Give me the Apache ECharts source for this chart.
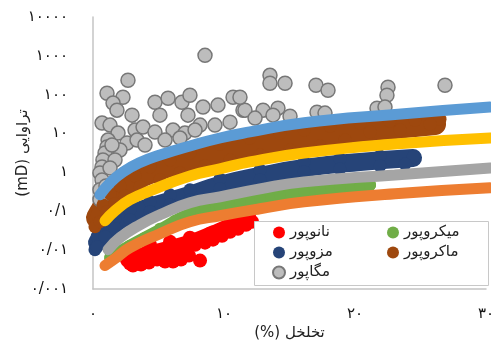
<!DOCTYPE html>
<html>
<head>
<meta charset="utf-8">
<script src="https://cdn.jsdelivr.net/npm/echarts@6/dist/echarts.min.js"></script>
<style>
  html, body { margin: 0; padding: 0; background: #fff; }
  #chart { width: 491px; height: 347px; }
</style>
</head>
<body>
<div id="chart"></div>
<script>
// tick labels (Persian digits, "/" as decimal mark)
const xTickLabels = ['۰', '۱۰', '۲۰', '۳۰']
const yTickLabels = ['۰/۰۰۱', '۰/۰۱', '۰/۱', '۱', '۱۰', '۱۰۰', '۱۰۰۰', '۱۰۰۰۰']

const legendLeft = ['نانوپور', 'مزوپور', 'مگاپور']
const legendRight = ['میکروپور', 'ماکروپور']

// [porosity %, permeability mD]
const megaPore = [
  [8.55, 1030], [2.67, 236], [1.07, 109], [2.29, 86], [1.53, 61], [1.83, 40],
  [0.69, 18.6], [2.98, 29.8], [4.73, 64], [5.73, 81], [6.79, 64], [7.40, 97],
  [8.40, 48], [9.54, 54], [10.69, 86], [11.45, 40], [5.11, 29.8], [7.25, 29.8],
  [1.30, 16.5], [1.91, 10.3], [3.21, 12.3], [3.82, 14.7], [4.73, 10.9], [6.11, 12.3],
  [8.17, 16.5], [7.02, 10.3], [1.15, 6.81], [2.60, 5.71], [3.36, 6.81], [1.07, 4.51],
  [0.92, 3.16], [0.76, 2.09], [0.69, 1.38], [0.53, 0.97], [0.69, 0.64], [0.53, 0.36],
  [0.53, 0.20], [13.51, 316], [13.51, 197], [14.66, 197], [17.02, 175], [17.94, 130],
  [22.52, 156], [22.44, 97], [26.87, 175], [11.60, 40], [12.98, 40], [14.12, 45],
  [13.74, 29.8], [17.10, 35.6], [21.68, 45], [22.29, 48], [11.22, 86], [9.31, 16.5],
  [10.46, 19.7], [12.37, 25], [15.04, 28.1], [17.71, 33.6], [5.50, 6.81], [6.64, 7.67],
  [2.06, 3.78], [1.45, 5.07], [3.97, 5.07], [7.79, 12.3], [1.68, 2.09], [1.30, 1.30],
  [0.99, 0.45], [0.84, 0.28]
]

const nanoPore = [
  [2.82, 0.0045], [3.05, 0.00401], [3.66, 0.00425], [4.27, 0.00478], [4.89, 0.00571],
  [5.50, 0.00507], [6.11, 0.00507], [6.72, 0.00571], [7.33, 0.00723], [8.17, 0.00538],
  [3.21, 0.00723], [3.97, 0.00813], [4.73, 0.00916], [5.50, 0.0103], [6.26, 0.0103],
  [7.02, 0.0116], [7.79, 0.0138], [8.55, 0.0156], [9.16, 0.0186], [9.85, 0.0235],
  [10.46, 0.0298], [11.07, 0.0356], [11.68, 0.0451], [12.14, 0.0538], [4.35, 0.0138],
  [5.88, 0.0165], [7.40, 0.0209], [8.93, 0.0265], [10.31, 0.0378], [11.53, 0.0571]
]
const nanoBand = [
  [2.67, 0.00571], [3.97, 0.00767], [5.50, 0.0103], [7.40, 0.0156], [9.31, 0.0281],
  [10.84, 0.0478], [11.83, 0.0723]
]

const microPore = [
  [1.45, 0.00643], [2.06, 0.00916], [2.82, 0.0130], [3.97, 0.0209], [5.11, 0.0356],
  [6.26, 0.0571], [7.40, 0.0916], [8.55, 0.116], [9.69, 0.130], [11.22, 0.165],
  [12.75, 0.209], [14.27, 0.265], [16.11, 0.316], [17.33, 0.356], [18.85, 0.401],
  [20.38, 0.451], [21.15, 0.478]
]
const microBand = [
  [1.30, 0.00643], [2.82, 0.0130], [5.11, 0.0336], [7.40, 0.0863], [9.69, 0.138],
  [12.75, 0.209], [16.11, 0.316], [18.85, 0.401], [21.15, 0.478]
]

const mesoPore = [
  [0.15, 0.0103],
  [0.31, 0.0222], [0.92, 0.0401], [1.68, 0.0642], [2.82, 0.109], [4.35, 0.175],
  [5.88, 0.265], [7.40, 0.356], [9.69, 0.681], [12.75, 1.16], [16.11, 1.86],
  [18.85, 2.22], [21.91, 2.65], [24.43, 2.50],
  [0.31, 0.0123], [0.92, 0.0222], [1.68, 0.0356], [2.82, 0.0605], [4.35, 0.097],
  [5.88, 0.147], [7.40, 0.197], [9.69, 0.378], [12.75, 0.642], [16.11, 1.03],
  [18.85, 1.23], [21.91, 1.47], [23.82, 1.65]
]
const mesoBand = [
  [0.31, 0.0156], [0.92, 0.0281], [1.68, 0.0478], [2.82, 0.0813], [4.35, 0.130],
  [7.40, 0.265], [9.69, 0.478], [12.75, 0.813], [16.11, 1.30], [20.38, 1.86],
  [24.43, 2.35]
]

const macroPore = [
  [0.31, 0.0813], [0.76, 0.147], [1.30, 0.281], [2.06, 0.451], [3.21, 0.813],
  [4.35, 1.38], [5.88, 2.09], [7.40, 3.16], [9.69, 5.38], [11.98, 7.67],
  [14.27, 10.3], [16.11, 12.3], [18.09, 15.6], [20.38, 18.6], [22.67, 20.9],
  [24.58, 22.2], [26.49, 23.5],
  [0.15, 0.0401], [0.53, 0.0538], [1.07, 0.097], [1.68, 0.156], [2.44, 0.250],
  [3.59, 0.425], [5.11, 0.642], [6.64, 0.97], [8.55, 1.47], [10.46, 2.09],
  [12.75, 2.81], [15.04, 3.78], [17.33, 4.78], [19.24, 6.81], [21.15, 10.9],
  [23.44, 12.3], [25.73, 17.5]
]
const macroBand = [
  [0.31, 0.068], [0.76, 0.123], [1.30, 0.222], [2.06, 0.378], [3.21, 0.642],
  [4.35, 0.97], [6.64, 1.75], [9.69, 3.16], [12.75, 5.07], [16.11, 7.67],
  [19.62, 10.9], [23.05, 13.8], [26.11, 17.5]
]

// trend bands
const blueTrend = [
  [0.53, 0.265], [1.30, 0.54], [2.29, 1.03], [3.59, 1.8], [5.11, 2.8], [7.40, 4.8],
  [9.69, 7.7], [11.98, 11], [16.11, 19], [23.05, 31], [30.31, 48]
]
const yellowTrend = [
  [0.92, 0.057], [1.68, 0.103], [2.82, 0.197], [4.35, 0.335], [7.40, 0.81],
  [9.69, 1.23], [11.98, 1.86], [16.11, 3.16], [23.05, 5.38], [30.31, 7.67]
]
const grayTrend = [
  [1.15, 0.0103], [2.06, 0.0209], [3.59, 0.0451], [5.11, 0.0813], [7.40, 0.166],
  [9.69, 0.235], [12.75, 0.378], [16.11, 0.571], [23.05, 0.862], [30.31, 1.30]
]
const orangeTrend = [
  [0.92, 0.00401], [1.68, 0.00605], [2.82, 0.0116], [5.11, 0.0265], [7.40, 0.0538],
  [9.69, 0.0767], [12.75, 0.116], [16.11, 0.175], [23.05, 0.281], [30.31, 0.401]
]

const FONT = 'DejaVu Sans'

function scatter(name, data, color, size, extra) {
  return Object.assign({
    name, type: 'scatter', data, symbolSize: size, z: 2,
    itemStyle: { color, opacity: 1 },
    emphasis: { disabled: true }
  }, extra || {})
}

function band(name, data, color, width, z) {
  return {
    name, type: 'line', data, smooth: true, symbol: 'none', z: z,
    lineStyle: { color, width: width, cap: 'round', join: 'round' },
    emphasis: { disabled: true }
  }
}

const legendText = { fontFamily: FONT, fontSize: 15, color: '#222' }

const chart = echarts.init(document.getElementById('chart'))
chart.setOption({
  animation: false,
  backgroundColor: '#fff',
  grid: { left: 93, right: 5, top: 17, bottom: 58, containLabel: false, outerBoundsMode: 'none' },
  xAxis: {
    type: 'value', min: 0, max: 30, interval: 10,
    name: '(%) تخلخل', nameLocation: 'middle', nameGap: 37, nameMoveOverlap: false,
    nameTextStyle: { fontFamily: FONT, fontSize: 15, color: '#222' },
    axisLine: { show: true, lineStyle: { color: '#c4c4c4', width: 1.5 } },
    axisTick: { show: false },
    splitLine: { show: false },
    axisLabel: {
      margin: 18, fontFamily: FONT, fontSize: 15, color: '#111',
      formatter: v => xTickLabels[Math.round(v / 10)]
    }
  },
  yAxis: {
    type: 'log', logBase: 10, min: 0.001, max: 10000, splitNumber: 7,
    name: '(mD) تراوایی', nameLocation: 'middle', nameGap: 62, nameRotate: 90,
    nameMoveOverlap: false,
    nameTextStyle: { fontFamily: FONT, fontSize: 15, color: '#222' },
    axisLine: { show: true, lineStyle: { color: '#c4c4c4', width: 1.5 } },
    axisTick: { show: false },
    splitLine: { show: false },
    axisLabel: {
      margin: 25, fontFamily: FONT, fontSize: 15, color: '#111',
      formatter: v => yTickLabels[Math.round(Math.log10(v)) + 3]
    }
  },
  graphic: [{
    type: 'rect', z: 6,
    shape: { x: 254.5, y: 221.5, width: 234, height: 64 },
    style: { fill: '#fff', stroke: '#c8c8c8', lineWidth: 1 }
  }],
  legend: [
    {
      data: legendLeft, orient: 'vertical', left: 272, top: 225, padding: 0,
      itemWidth: 12, itemHeight: 12, itemGap: 5, icon: 'circle', z: 8,
      textStyle: legendText, selectedMode: false
    },
    {
      data: legendRight, orient: 'vertical', left: 387, top: 225, padding: 0,
      itemWidth: 12, itemHeight: 12, itemGap: 5, icon: 'circle', z: 8,
      textStyle: legendText, selectedMode: false
    }
  ],
  series: [
    scatter('مگاپور', megaPore, '#bdbdbd', 14, {
      itemStyle: { color: '#bdbdbd', borderColor: '#777', borderWidth: 1.5, opacity: 1 }
    }),
    band('نانوپور-باند', nanoBand, '#ff0000', 16, 2),
    scatter('نانوپور', nanoPore, '#ff0000', 14),
    band('میکروپور-باند', microBand, '#70ad47', 12, 2),
    scatter('میکروپور', microPore, '#70ad47', 12),
    band('مزوپور-باند', mesoBand, '#264478', 18, 2),
    scatter('مزوپور', mesoPore, '#264478', 13),
    band('ماکروپور-باند', macroBand, '#9e480e', 22, 2),
    scatter('ماکروپور', macroPore, '#9e480e', 13),
    band('روند ۱', orangeTrend, '#ed7d31', 11, 3),
    band('روند ۲', grayTrend, '#a5a5a5', 11, 3),
    band('روند ۳', yellowTrend, '#ffc000', 11, 3),
    band('روند ۴', blueTrend, '#5b9bd5', 11, 3)
  ]
})
</script>
</body>
</html>
